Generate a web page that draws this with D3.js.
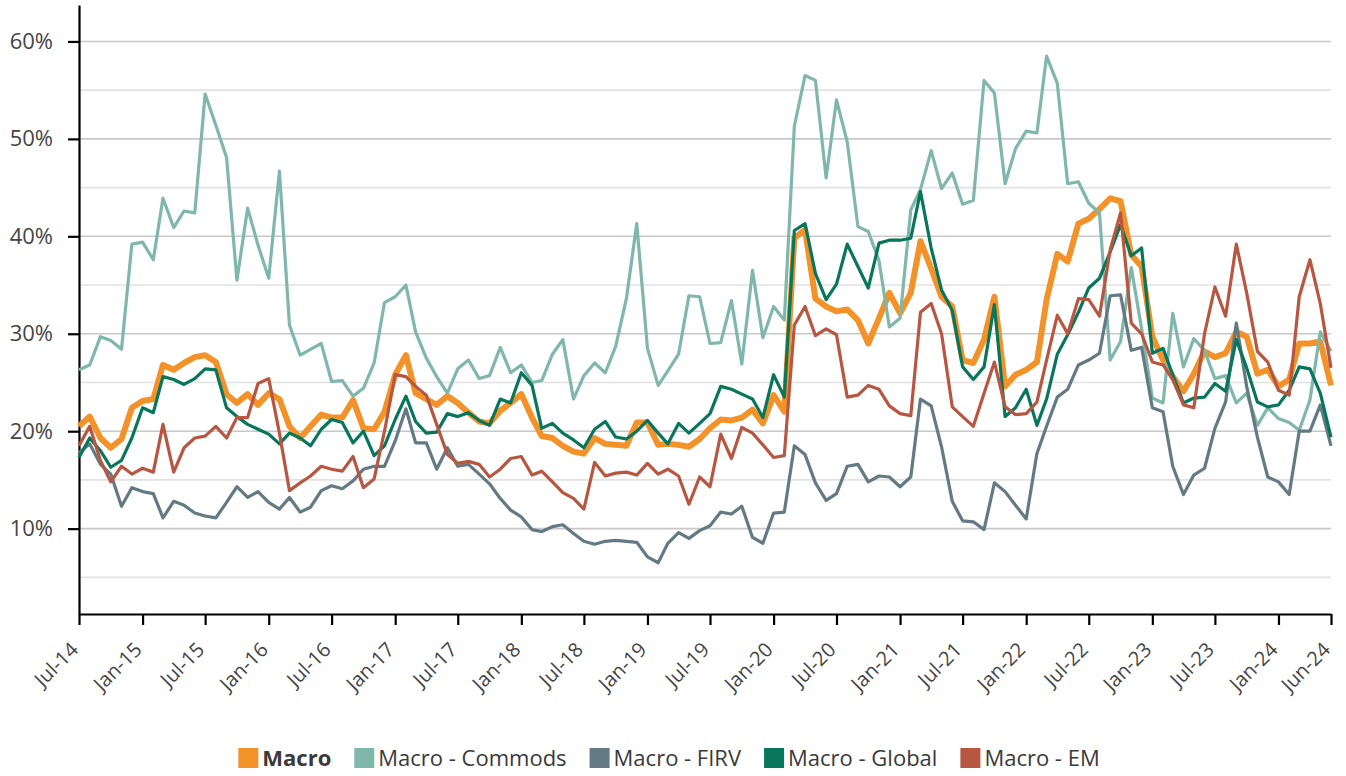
<!DOCTYPE html>
<html>
<head>
<meta charset="utf-8">
<script src="https://cdn.jsdelivr.net/npm/d3@7"></script>
<style>
  body { margin: 0; background: #fff; }
  text { font-family: "Open Sans", sans-serif; }
</style>
</head>
<body>
<div class="grafico"></div>
<script>
// monthly values, Jul-14 .. Jun-24 (percent)
var firstMonth = "Jul-14", lastMonth = "Jun-24";
var tickLabels = ["Jul-14", "Jan-15", "Jul-15", "Jan-16", "Jul-16", "Jan-17", "Jul-17", "Jan-18",
  "Jul-18", "Jan-19", "Jul-19", "Jan-20", "Jul-20", "Jan-21", "Jul-21", "Jan-22", "Jul-22",
  "Jan-23", "Jul-23", "Jan-24", "Jun-24"];
var yTicks = [10, 20, 30, 40, 50, 60];

var macro = [20.5, 21.5, 19.3, 18.3, 19.2, 22.4, 23.1, 23.3, 26.8, 26.3, 27.0, 27.6, 27.8, 27.1, 23.8, 22.9, 23.8, 22.7, 23.9, 23.3,
  20.5, 19.3, 20.5, 21.7, 21.4, 21.4, 23.2, 20.3, 20.2, 22.0, 25.8, 27.8, 23.9, 23.3, 22.7, 23.6, 22.9, 21.9, 21.0, 20.8,
  22.1, 22.9, 23.8, 21.4, 19.5, 19.3, 18.5, 17.9, 17.7, 19.3, 18.7, 18.6, 18.5, 20.9, 20.9, 18.6, 18.7, 18.6, 18.4, 19.2,
  20.3, 21.2, 21.1, 21.4, 22.2, 20.8, 23.7, 22.0, 39.8, 40.7, 33.6, 32.8, 32.3, 32.5, 31.4, 29.0, 31.6, 34.2, 32.1, 34.2,
  39.5, 36.7, 33.8, 32.8, 27.3, 27.0, 29.4, 33.8, 24.6, 25.8, 26.3, 27.1, 33.5, 38.2, 37.4, 41.3, 41.8, 42.8, 43.9, 43.6,
  38.1, 36.9, 29.7, 27.3, 25.6, 24.1, 25.9, 28.2, 27.6, 28.0, 30.2, 29.7, 25.9, 26.3, 24.6, 25.3, 29.0, 29.0, 29.2, 24.7];

var commods = [26.3, 26.8, 29.7, 29.3, 28.4, 39.2, 39.4, 37.6, 43.9, 40.9, 42.6, 42.4, 54.6, 51.4, 48.1, 35.5, 42.9, 39.1, 35.7, 46.7,
  30.9, 27.8, 28.4, 29.0, 25.1, 25.2, 23.6, 24.4, 27.0, 33.2, 33.8, 35.0, 30.2, 27.5, 25.6, 23.9, 26.4, 27.3, 25.4, 25.7,
  28.6, 26.0, 26.8, 25.0, 25.2, 27.9, 29.4, 23.3, 25.7, 27.0, 26.0, 28.7, 33.6, 41.3, 28.5, 24.7, 26.2, 27.9, 33.9, 33.8,
  29.0, 29.1, 33.4, 26.9, 36.5, 29.6, 32.8, 31.4, 51.3, 56.5, 56.0, 46.0, 54.0, 49.7, 41.0, 40.5, 37.5, 30.7, 31.6, 42.7,
  44.8, 48.8, 44.9, 46.5, 43.3, 43.7, 56.0, 54.7, 45.4, 49.0, 50.8, 50.6, 58.5, 55.7, 45.4, 45.6, 43.4, 42.4, 27.3, 29.2,
  36.8, 30.5, 23.4, 22.9, 32.1, 26.6, 29.5, 28.3, 25.4, 25.7, 22.9, 23.9, 20.6, 22.4, 21.3, 20.9, 20.1, 23.2, 30.2, 28.2];

var firv = [17.8, 18.7, 16.6, 15.6, 12.3, 14.2, 13.8, 13.6, 11.1, 12.8, 12.4, 11.6, 11.3, 11.1, 12.7, 14.3, 13.2, 13.8, 12.7, 12.0,
  13.2, 11.7, 12.2, 13.9, 14.4, 14.1, 14.9, 16.1, 16.4, 16.4, 19.0, 22.3, 18.8, 18.8, 16.1, 18.3, 16.4, 16.6, 15.6, 14.6,
  13.1, 11.9, 11.2, 9.9, 9.7, 10.2, 10.4, 9.5, 8.7, 8.4, 8.7, 8.8, 8.7, 8.6, 7.1, 6.5, 8.5, 9.6, 9.0, 9.8,
  10.3, 11.7, 11.5, 12.3, 9.1, 8.5, 11.6, 11.7, 18.5, 17.6, 14.7, 12.9, 13.6, 16.4, 16.6, 14.8, 15.4, 15.3, 14.3, 15.3,
  23.3, 22.6, 18.4, 12.8, 10.8, 10.7, 9.9, 14.7, 13.8, 12.4, 11.0, 17.7, 20.5, 23.5, 24.3, 26.8, 27.3, 28.0, 33.9, 34.0,
  28.3, 28.6, 22.4, 22.0, 16.4, 13.5, 15.5, 16.2, 20.3, 23.0, 31.1, 24.6, 19.4, 15.3, 14.8, 13.5, 20.0, 20.0, 22.7, 18.5];

var global = [17.3, 19.3, 18.0, 16.3, 17.0, 19.3, 22.4, 21.9, 25.6, 25.3, 24.8, 25.4, 26.4, 26.3, 22.4, 21.5, 20.7, 20.2, 19.7, 18.7,
  19.8, 19.3, 18.5, 20.2, 21.2, 20.9, 18.8, 20.0, 17.5, 18.5, 21.2, 23.6, 21.0, 19.8, 19.9, 21.8, 21.5, 21.9, 21.1, 20.6,
  23.3, 22.9, 26.0, 24.7, 20.3, 20.8, 19.8, 19.1, 18.3, 20.2, 21.0, 19.4, 19.2, 20.0, 21.1, 19.8, 18.7, 20.8, 19.8, 20.8,
  21.8, 24.6, 24.3, 23.8, 23.3, 21.4, 25.8, 23.5, 40.6, 41.3, 36.2, 33.5, 35.1, 39.2, 36.9, 34.7, 39.3, 39.6, 39.6, 39.8,
  44.6, 38.8, 34.5, 32.4, 26.6, 25.3, 26.6, 33.0, 21.5, 22.4, 24.3, 20.6, 23.3, 27.9, 29.9, 32.2, 34.7, 35.7, 38.4, 41.2,
  38.0, 38.8, 28.0, 28.5, 25.8, 22.9, 23.4, 23.5, 24.9, 24.1, 29.4, 26.5, 23.0, 22.5, 22.7, 24.2, 26.6, 26.4, 23.9, 19.4];

var em = [18.5, 20.5, 17.0, 14.8, 16.4, 15.6, 16.2, 15.8, 20.7, 15.8, 18.3, 19.3, 19.5, 20.5, 19.3, 21.4, 21.4, 24.9, 25.4, 19.8,
  13.9, 14.7, 15.4, 16.4, 16.1, 15.9, 17.4, 14.2, 15.1, 20.0, 25.8, 25.6, 24.6, 23.7, 20.7, 17.6, 16.7, 16.9, 16.6, 15.3,
  16.1, 17.2, 17.4, 15.5, 15.9, 14.8, 13.7, 13.1, 12.0, 16.8, 15.4, 15.7, 15.8, 15.5, 16.7, 15.6, 16.1, 15.4, 12.5, 15.3,
  14.3, 19.7, 17.2, 20.4, 19.8, 18.6, 17.3, 17.5, 30.9, 32.8, 29.8, 30.5, 29.9, 23.5, 23.7, 24.7, 24.3, 22.6, 21.8, 21.6,
  32.2, 33.1, 30.0, 22.5, 21.5, 20.5, 23.9, 27.1, 22.5, 21.7, 21.8, 23.0, 27.3, 31.9, 30.0, 33.6, 33.5, 31.8, 38.6, 42.4,
  31.1, 30.0, 27.1, 26.8, 25.3, 22.7, 22.4, 30.0, 34.8, 31.8, 39.2, 34.2, 28.2, 27.1, 24.2, 23.7, 33.8, 37.6, 33.1, 26.5];

var names = ["Macro", "Macro - Commods", "Macro - FIRV", "Macro - Global", "Macro - EM"];
var colors = ["#F39229", "#7FB8AA", "#637A84", "#08765A", "#B85741"];
var widths = [6, 3.2, 3.2, 3.2, 3.2];

var width = 1346, height = 776;
var margin = { top: 5, right: 15, bottom: 162, left: 79 };

var parseMonth = d3.timeParse("%b-%y");
var months = d3.timeMonth.range(parseMonth(firstMonth), d3.timeMonth.offset(parseMonth(lastMonth), 1));

var x = d3.scaleTime()
  .domain([parseMonth(firstMonth), parseMonth(lastMonth)])
  .range([margin.left, width - margin.right]);
var y = d3.scaleLinear()
  .domain([1.24, 63.74])
  .range([height - margin.bottom, margin.top]);

var svg = d3.select(".grafico").append("svg")
  .attr("width", width)
  .attr("height", height);

// gridlines: every 10% darker, every 5% lighter
var grid = svg.append("g");
grid.selectAll("line")
  .data(d3.range(5, 61, 5))
  .enter().append("line")
  .attr("x1", margin.left)
  .attr("x2", width - margin.right)
  .attr("y1", d => y(d))
  .attr("y2", d => y(d))
  .attr("stroke", d => d % 10 === 0 ? "#c8c8c8" : "#e2e2e2")
  .attr("stroke-width", 1.6);

// y axis
var yAxis = svg.append("g")
  .attr("transform", "translate(" + margin.left + ",0)")
  .call(d3.axisLeft(y).tickValues(yTicks).tickSize(11).tickSizeOuter(0).tickPadding(15)
    .tickFormat(d => d + "%"));
yAxis.select(".domain").attr("stroke", "#000").attr("stroke-width", 2.2);
yAxis.selectAll(".tick line").attr("stroke", "#000").attr("stroke-width", 2.2);
yAxis.selectAll(".tick text")
  .attr("font-size", 22)
  .attr("fill", "#454545")
  .style("font-family", "'Open Sans', sans-serif");

// x axis
var xAxis = svg.append("g")
  .attr("transform", "translate(0," + (height - margin.bottom) + ")")
  .call(d3.axisBottom(x).tickValues(tickLabels.map(parseMonth)).tickSize(11).tickSizeOuter(0)
    .tickFormat(d3.timeFormat("%b-%y")));
xAxis.select(".domain").attr("stroke", "#000").attr("stroke-width", 2.2);
xAxis.selectAll(".tick line").attr("stroke", "#000").attr("stroke-width", 2.2);
xAxis.selectAll(".tick text")
  .attr("font-size", 20)
  .attr("fill", "#454545")
  .attr("text-anchor", "end")
  .attr("dy", null)
  .attr("y", null)
  .attr("transform", "translate(0,37) rotate(-45)")
  .style("font-family", "'Open Sans', sans-serif");

// lines
var line = d3.line()
  .x((d, i) => x(months[i]))
  .y(d => y(d));

var allSeries = [macro, commods, firv, global, em];
svg.append("g").selectAll("path")
  .data(allSeries)
  .enter().append("path")
  .attr("d", line)
  .attr("fill", "none")
  .attr("stroke", (d, i) => colors[i])
  .attr("stroke-width", (d, i) => widths[i])
  .attr("stroke-linejoin", "round");

// legend
var legend = svg.append("g");
var item = legend.selectAll("g")
  .data(names)
  .enter().append("g");
item.append("rect")
  .attr("width", 20)
  .attr("height", 20)
  .attr("y", 748)
  .attr("fill", (d, i) => colors[i]);
item.append("text")
  .attr("x", 24)
  .attr("y", 766)
  .attr("font-size", 22)
  .attr("font-weight", (d, i) => i === 0 ? 700 : 400)
  .attr("fill", "#3a3a3a")
  .text(d => d);

var offset = 0, gap = 23, pos = [];
item.each(function () {
  pos.push(offset);
  offset += 24 + this.querySelector("text").getComputedTextLength() + gap;
});
var total = offset - gap;
var start = (width - total) / 2 - 4;
item.attr("transform", (d, i) => "translate(" + (start + pos[i]) + ",0)");
</script>
</body>
</html>
